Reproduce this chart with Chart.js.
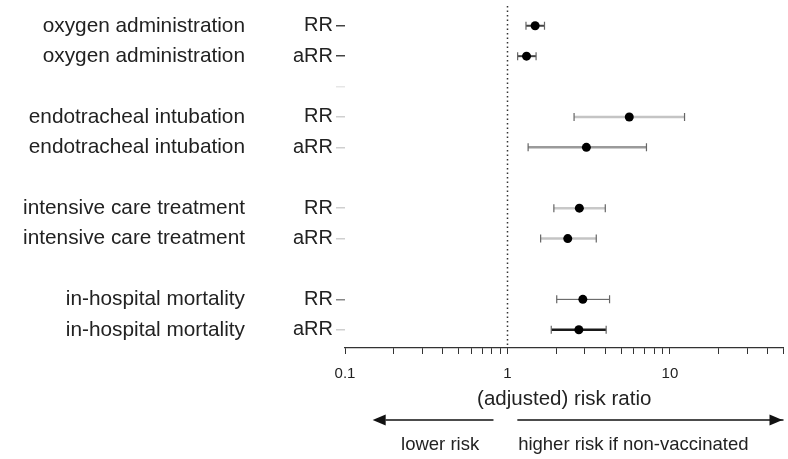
<!DOCTYPE html>
<html>
<head>
<meta charset="utf-8">
<script src="https://cdn.jsdelivr.net/npm/chart.js@4"></script>
<style>
  html, body { margin: 0; padding: 0; background: #fff; }
  #wrap { width: 788px; height: 459px; position: relative; }
</style>
</head>
<body>
<div id="wrap"><canvas id="forest"></canvas></div>
<script>
// rows top to bottom, blank rows separate the outcomes
const outcomeLabels = ['oxygen administration', 'oxygen administration', '',
  'endotracheal intubation', 'endotracheal intubation', '',
  'intensive care treatment', 'intensive care treatment', '',
  'in-hospital mortality', 'in-hospital mortality'];
const measureLabels = ['RR', 'aRR', '', 'RR', 'aRR', '', 'RR', 'aRR', '', 'RR', 'aRR'];

// estimates and 95% CI (null = blank row)
const estimate = [1.48, 1.31, null, 5.62, 3.06, null, 2.77, 2.35, null, 2.91, 2.75];
const ciLower  = [1.30, 1.155, null, 2.57, 1.34, null, 1.93, 1.60, null, 2.01, 1.86];
const ciUpper  = [1.69, 1.50, null, 12.3, 7.17, null, 4.00, 3.52, null, 4.25, 4.05];

// x axis ticks, only the decades get a label
const xTicks = [0.1, 0.2, 0.3, 0.4, 0.5, 0.6, 0.7, 0.8, 0.9, 1, 2, 3, 4, 5, 6, 7, 8, 9, 10, 20, 30, 40, 50];
const xTickLabels = { 0.1: '0.1', 1: '1', 10: '10' };

// whisker styles per row
const whiskerColor = ['#444', '#444', null, '#c4c4c4', '#9a9a9a', null, '#c8c8c8', '#c4c4c4', null, '#555', '#1a1a1a'];
const whiskerWidth = [2, 2, 0, 2.5, 2.5, 0, 2.5, 2.5, 0, 1, 2.5];
const tickColor = ['#444', '#444', '#e6e6e6', '#cfcfcf', '#cfcfcf', 'rgba(0,0,0,0)', '#cfcfcf', '#cfcfcf', 'rgba(0,0,0,0)', '#888', '#cfcfcf'];

// arrows under the axis (values on the x scale)
const leftArrow = [0.148, 0.82];
const rightArrow = [1.15, 50];
const lowerText = { at: 0.385, text: 'lower risk' };
const higherText = { at: 5.95, text: 'higher risk if non-vaccinated' };

const points = [];
estimate.forEach((v, i) => { if (v !== null) points.push({ x: v, y: i }); });

const FONT = 'Liberation Sans, Arial, sans-serif';

const forestExtras = {
  id: 'forestExtras',
  beforeDatasetsDraw(chart) {
    const ctx = chart.ctx;
    const xs = chart.scales.x;
    const ys = chart.scales.y;
    const area = chart.chartArea;

    // reference line at 1
    const x1 = Math.round(xs.getPixelForValue(1)) + 0.5;
    ctx.save();
    ctx.strokeStyle = '#333';
    ctx.lineWidth = 1.5;
    ctx.setLineDash([1.5, 3]);
    ctx.beginPath();
    ctx.moveTo(x1, area.top);
    ctx.lineTo(x1, area.bottom);
    ctx.stroke();
    ctx.setLineDash([]);

    // confidence intervals
    estimate.forEach((v, i) => {
      if (v === null) return;
      const y = ys.getPixelForValue(i);
      const a = xs.getPixelForValue(ciLower[i]);
      const b = xs.getPixelForValue(ciUpper[i]);
      ctx.strokeStyle = whiskerColor[i];
      ctx.lineWidth = whiskerWidth[i];
      ctx.beginPath();
      ctx.moveTo(a, y);
      ctx.lineTo(b, y);
      ctx.stroke();
      ctx.strokeStyle = '#666';
      ctx.lineWidth = 1.2;
      ctx.beginPath();
      ctx.moveTo(a, y - 4); ctx.lineTo(a, y + 4);
      ctx.moveTo(b, y - 4); ctx.lineTo(b, y + 4);
      ctx.stroke();
    });
    ctx.restore();
  },
  afterDraw(chart) {
    const ctx = chart.ctx;
    const xs = chart.scales.x;
    const yArrow = 420;
    const yText = 445;
    ctx.save();
    ctx.strokeStyle = '#111';
    ctx.fillStyle = '#111';
    ctx.lineWidth = 1.5;

    const arrow = (from, to) => {
      const a = xs.getPixelForValue(from);
      const b = xs.getPixelForValue(to);
      ctx.beginPath();
      ctx.moveTo(a, yArrow);
      ctx.lineTo(b, yArrow);
      ctx.stroke();
    };
    const head = (x, dir) => {
      ctx.beginPath();
      ctx.moveTo(x, yArrow);
      ctx.lineTo(x - dir * 13, yArrow - 5.5);
      ctx.lineTo(x - dir * 13, yArrow + 5.5);
      ctx.closePath();
      ctx.fill();
    };
    arrow(leftArrow[0] * 1.2, leftArrow[1]);
    head(xs.getPixelForValue(leftArrow[0]), -1);
    arrow(rightArrow[0], rightArrow[1]);
    head(xs.getPixelForValue(rightArrow[1]) - 1, 1);

    ctx.font = '18.5px ' + FONT;
    ctx.fillStyle = '#222';
    ctx.textAlign = 'center';
    ctx.textBaseline = 'middle';
    ctx.fillText(lowerText.text, xs.getPixelForValue(lowerText.at), yText);
    ctx.fillText(higherText.text, xs.getPixelForValue(higherText.at), yText);
    ctx.restore();
  }
};

// y axes: fixed widths, no extra top/bottom padding from the tick padding
const fixWidth = (w) => (scale) => {
  scale.width = w;
  scale.paddingTop = 0;
  scale.paddingBottom = 0;
};

new Chart(document.getElementById('forest'), {
  type: 'scatter',
  data: {
    datasets: [{
      data: points,
      pointStyle: 'circle',
      pointRadius: 4.5,
      pointBackgroundColor: '#000',
      pointBorderColor: '#000',
      pointBorderWidth: 0
    }]
  },
  options: {
    responsive: true,
    maintainAspectRatio: false,
    animation: false,
    layout: { padding: { top: 6, right: 1, bottom: 46, left: 0 } },
    plugins: {
      legend: { display: false },
      tooltip: { enabled: false }
    },
    scales: {
      x: {
        type: 'logarithmic',
        position: 'bottom',
        min: 0.1,
        max: 50,
        afterBuildTicks: (scale) => { scale.ticks = xTicks.map(v => ({ value: v })); },
        afterFit: (scale) => {
          scale.height = 65;
          scale.paddingLeft = 0;
          scale.paddingRight = 0;
        },
        ticks: {
          autoSkip: false,
          maxRotation: 0,
          padding: 11,
          color: '#222',
          font: { family: FONT, size: 15 },
          callback: (v) => xTickLabels[v] || ''
        },
        grid: { drawOnChartArea: false, tickLength: 6, color: '#333', lineWidth: 1 },
        border: { display: true, color: '#333', width: 1.2 },
        title: {
          display: true,
          text: '(adjusted) risk ratio',
          color: '#222',
          font: { family: FONT, size: 20.5 },
          padding: { top: 6, bottom: 1 }
        }
      },
      y: {
        type: 'linear',
        position: 'left',
        reverse: true,
        min: -0.65,
        max: 10.6,
        weight: 0,
        afterBuildTicks: (scale) => { scale.ticks = measureLabels.map((_, i) => ({ value: i })); },
        afterFit: fixWidth(53),
        ticks: {
          autoSkip: false,
          padding: 3,
          color: '#222',
          font: { family: FONT, size: 20 },
          callback: (v) => measureLabels[v]
        },
        grid: {
          drawOnChartArea: false,
          tickLength: 9,
          lineWidth: 1.5,
          color: (c) => tickColor[c.index] || 'rgba(0,0,0,0)'
        },
        border: { display: false }
      },
      yName: {
        type: 'linear',
        position: 'left',
        reverse: true,
        min: -0.65,
        max: 10.6,
        weight: 1,
        afterBuildTicks: (scale) => { scale.ticks = outcomeLabels.map((_, i) => ({ value: i })); },
        afterFit: fixWidth(292),
        ticks: {
          autoSkip: false,
          padding: 39,
          color: '#222',
          font: { family: FONT, size: 20.8 },
          callback: (v) => outcomeLabels[v]
        },
        grid: { display: false },
        border: { display: false }
      }
    }
  },
  plugins: [forestExtras]
});
</script>
</body>
</html>
